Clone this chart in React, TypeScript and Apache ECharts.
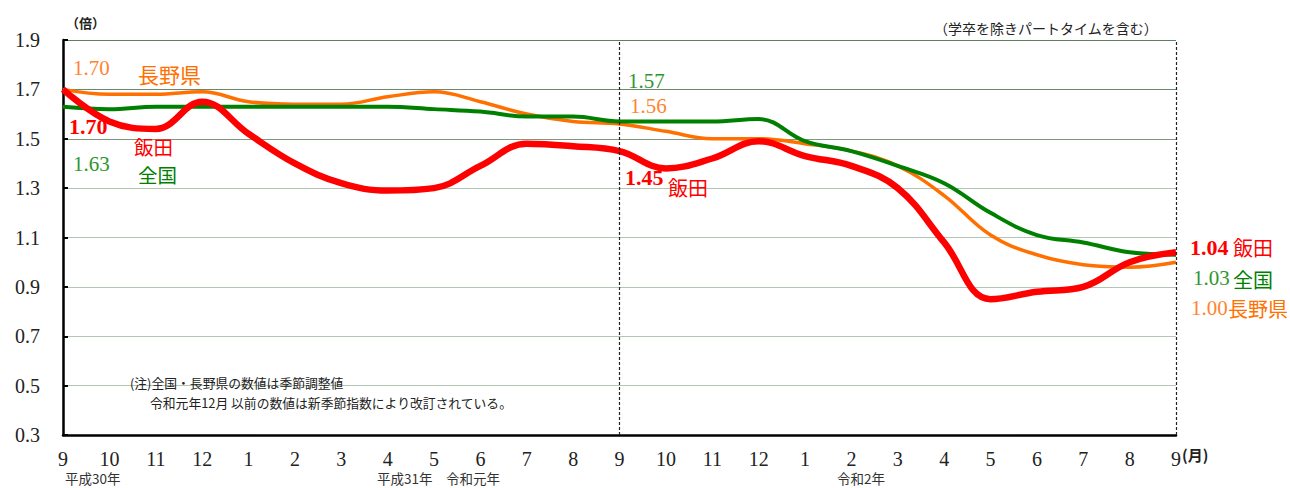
import React, { useEffect, useRef } from 'react';
import * as echarts from 'echarts';

const months = ['9', '10', '11', '12', '1', '2', '3', '4', '5', '6', '7', '8', '9', '10', '11', '12', '1', '2', '3', '4', '5', '6', '7', '8', '9'];
const iida = [1.70, 1.57, 1.54, 1.65, 1.52, 1.40, 1.32, 1.29, 1.30, 1.39, 1.48, 1.47, 1.45, 1.38, 1.42, 1.49, 1.43, 1.39, 1.30, 1.08, 0.85, 0.88, 0.90, 1.00, 1.04];
const nagano = [1.70, 1.68, 1.68, 1.69, 1.65, 1.64, 1.64, 1.67, 1.69, 1.65, 1.60, 1.57, 1.56, 1.53, 1.50, 1.50, 1.48, 1.45, 1.39, 1.27, 1.11, 1.03, 0.99, 0.98, 1.00];
const zenkoku = [1.63, 1.62, 1.63, 1.63, 1.63, 1.63, 1.63, 1.63, 1.62, 1.61, 1.59, 1.59, 1.57, 1.57, 1.57, 1.58, 1.49, 1.45, 1.39, 1.32, 1.20, 1.11, 1.08, 1.04, 1.03];
const dividerIndexes = [12, 24];
const yearLabels = ['平成30年', '平成31年\u3000令和元年', '令和2年'];
const notes = ['(注)全国・長野県の数値は季節調整値', '令和元年12月 以前の数値は新季節指数により改訂されている。'];

const RED = '#ff0000';
const GREEN = '#008000';
const GREEN_T = '#2f962f';
const ORANGE = '#ff7000';
const ORANGE_T = '#ff8430';
const SERIF = '"Liberation Serif", "DejaVu Serif", serif';
const JP = '"Noto Sans CJK JP", "Noto Sans", sans-serif';

function txt(text: string, x: number, y: number, fill: string, fontSize: number, fontFamily: string, fontWeight: string = 'normal', align: string = 'left') {
  return {
    type: 'text',
    x,
    y,
    z: 100,
    style: { text, fill, fontSize, fontFamily, fontWeight, align, verticalAlign: 'middle', lineHeight: fontSize },
  };
}

export default function App() {
  const ref = useRef<HTMLDivElement>(null);
  useEffect(() => {
    document.body.style.margin = '0';
    if (!ref.current) return;
    const chart = echarts.init(ref.current, undefined, { renderer: 'svg' });
    const option = {
      animation: false,
      backgroundColor: '#ffffff',
      grid: { left: 63, right: 114, top: 40, bottom: 53, containLabel: false },
      xAxis: {
        type: 'category',
        data: months,
        boundaryGap: false,
        axisLine: { show: true, lineStyle: { color: '#000', width: 2.5 } },
        axisTick: { show: false },
        axisLabel: { color: '#222', fontSize: 20, lineHeight: 20, fontFamily: SERIF, margin: 14, interval: 0 },
        splitLine: { show: false },
      },
      yAxis: {
        type: 'value',
        min: 0.3,
        max: 1.9,
        interval: 0.2,
        axisLine: { show: true, lineStyle: { color: '#000', width: 2.5 } },
        axisTick: { show: true, inside: true, length: 5, lineStyle: { color: '#000', width: 2 } },
        axisLabel: { color: '#222', fontSize: 20, fontFamily: SERIF, margin: 23, formatter: (v: number) => v.toFixed(1) },
        splitLine: {
          show: true,
          lineStyle: {
            width: 1.2,
            color: ['#b3c6b3', '#b3c6b3', '#b3c6b3', '#b3c6b3', '#b3c6b3', '#b3c6b3', '#7f977f', '#6a886a', '#5f7f5f'],
          },
        },
      },
      series: [
        {
          name: '長野県',
          type: 'line',
          data: nagano,
          smooth: 0.4,
          symbol: 'none',
          lineStyle: { color: ORANGE, width: 3.5 },
          z: 2,
        },
        {
          name: '全国',
          type: 'line',
          data: zenkoku,
          smooth: 0.4,
          symbol: 'none',
          lineStyle: { color: GREEN, width: 4 },
          z: 3,
        },
        {
          name: '飯田',
          type: 'line',
          data: iida,
          smooth: 0.4,
          symbol: 'none',
          lineStyle: { color: RED, width: 6.5 },
          z: 4,
          markLine: {
            silent: true,
            symbol: ['none', 'none'],
            label: { show: false },
            lineStyle: { color: '#222', type: [3, 2], width: 1.2 },
            data: dividerIndexes.map((i) => ({ xAxis: i })),
          },
        },
      ],
      graphic: [
        txt('（倍）', 66, 22, '#222', 13, JP, 'bold'),
        txt('（学卒を除きパートタイムを含む）', 934, 28, '#222', 14, JP),
        txt('(月)', 1182, 454, '#222', 15, JP, 'bold'),
        txt(yearLabels[0], 65, 478, '#333', 13.5, JP),
        txt(yearLabels[1], 377, 478, '#333', 13.5, JP),
        txt(yearLabels[2], 837, 478, '#333', 13.5, JP),
        txt(notes[0], 130, 382, '#222', 12.8, JP),
        txt(notes[1], 150, 402, '#222', 12.8, JP),
        // start labels
        txt('1.70', 73, 68, ORANGE_T, 21, SERIF),
        txt('長野県', 138, 74, ORANGE, 21, JP),
        txt('1.70', 69, 126, RED, 22, SERIF, 'bold'),
        txt('飯田', 134, 146, RED, 19.5, JP),
        txt('1.63', 73, 164, GREEN_T, 21, SERIF),
        txt('全国', 138, 174, GREEN, 19.5, JP),
        // middle labels
        txt('1.57', 628, 81, GREEN_T, 21, SERIF),
        txt('1.56', 630, 106, ORANGE_T, 21, SERIF),
        txt('1.45', 625, 177, RED, 22, SERIF, 'bold'),
        txt('飯田', 668, 187, RED, 20, JP),
        // end labels
        txt('1.04', 1190, 247, RED, 22, SERIF, 'bold'),
        txt('飯田', 1233, 247, RED, 20, JP),
        txt('1.03', 1193, 278, GREEN_T, 21, SERIF),
        txt('全国', 1233, 279, GREEN, 20, JP),
        txt('1.00', 1191, 308, ORANGE_T, 21, SERIF),
        txt('長野県', 1228, 308, ORANGE, 20, JP),
      ],
    };
    chart.setOption(option as any);
    return () => chart.dispose();
  }, []);
  return <div ref={ref} style={{ width: 1290, height: 488 }} />;
}
